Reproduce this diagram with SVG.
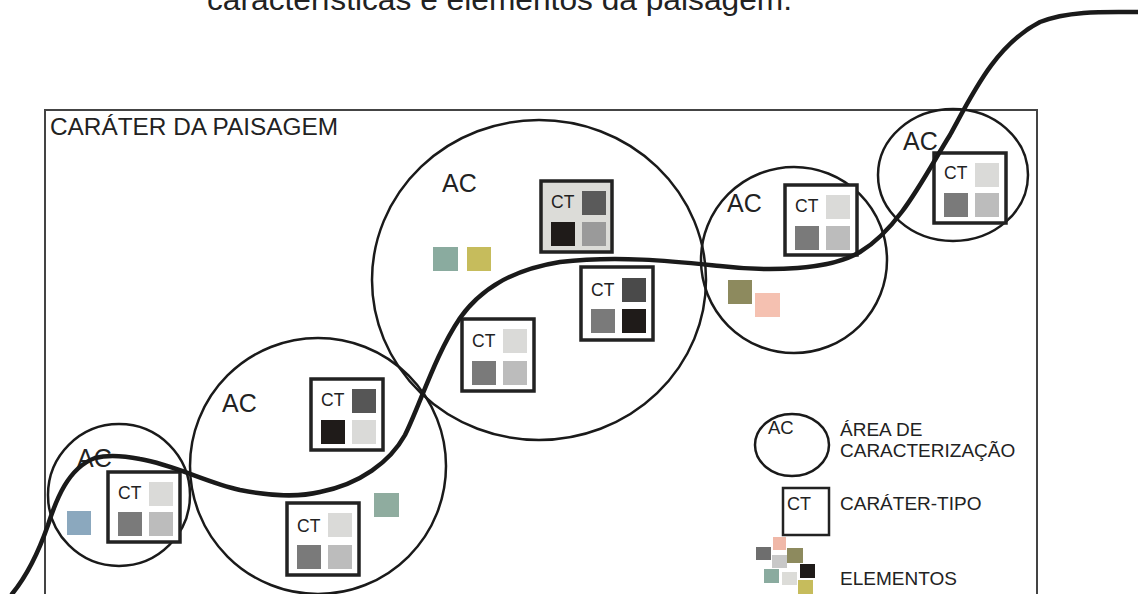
<svg xmlns="http://www.w3.org/2000/svg" width="1138" height="594" viewBox="0 0 1138 594">
<style>
text{font-family:"Liberation Sans",Arial,sans-serif;fill:#222}
.ac{fill:none;stroke:#1a1a1a;stroke-width:2.5}
.acl{font-size:25px}
.ctb{fill:#fff;stroke:#222;stroke-width:3.5}
.ctt{font-size:17.5px}
.lg{font-size:19px}
.l{fill:#dadad8}.m{fill:#7a7a7a}.g{fill:#bcbcbc}.d{fill:#565656}.k{fill:#1f1b19}
</style>
<rect width="1138" height="594" fill="#fff"/>
<text x="207" y="10" font-size="30" textLength="585" lengthAdjust="spacingAndGlyphs">características e elementos da paisagem.</text>
<g id="frame">
<rect x="45" y="110" width="992" height="520" fill="none" stroke="#444" stroke-width="2"/>
<text x="50" y="135" font-size="23" textLength="288" lengthAdjust="spacingAndGlyphs">CARÁTER DA PAISAGEM</text>
</g>
<g id="ac1">
<circle class="ac" cx="119" cy="495" r="71"/>
<text class="acl" x="77" y="467">AC</text>
<rect x="67" y="511" width="24" height="24" fill="#8ba8be"/>
<g transform="translate(108,472)"><rect class="ctb" width="72" height="70"/><text class="ctt" x="10" y="27">CT</text><rect class="l" x="41" y="10" width="24" height="24"/><rect class="m" x="10" y="40" width="24" height="24"/><rect class="g" x="41" y="40" width="24" height="24"/></g>
</g>
<g id="ac2">
<circle class="ac" cx="318" cy="466" r="128"/>
<text class="acl" x="222" y="412">AC</text>
<rect x="374" y="493" width="25" height="24" fill="#8fac9f"/>
<g transform="translate(311,379)"><rect class="ctb" width="72" height="71"/><text class="ctt" x="10" y="27">CT</text><rect class="d" x="41" y="10" width="24" height="24"/><rect class="k" x="10" y="41" width="24" height="24"/><rect class="l" x="41" y="41" width="24" height="24"/></g>
<g transform="translate(287,503)"><rect class="ctb" width="72" height="72"/><text class="ctt" x="10" y="29">CT</text><rect class="l" x="41" y="10" width="24" height="24"/><rect class="m" x="10" y="42" width="24" height="24"/><rect class="g" x="41" y="42" width="24" height="24"/></g>
</g>
<g id="ac3">
<ellipse class="ac" cx="539" cy="280" rx="167" ry="160"/>
<text class="acl" x="442" y="192">AC</text>
<rect x="433" y="247" width="25" height="24" fill="#8aab9f"/>
<rect x="467" y="247" width="24" height="24" fill="#c6bc5c"/>
<g transform="translate(541,181)"><rect class="ctb" width="71" height="71" style="fill:#dcdcd8"/><text class="ctt" x="10" y="27">CT</text><rect x="41" y="10" width="24" height="24" fill="#5a5a5a"/><rect class="k" x="10" y="41" width="24" height="24"/><rect x="41" y="41" width="24" height="24" fill="#9a9a9a"/></g>
<g transform="translate(581,267)"><rect class="ctb" width="72" height="73"/><text class="ctt" x="10" y="29">CT</text><rect x="41" y="11" width="24" height="24" fill="#4a4a4a"/><rect class="m" x="10" y="42" width="24" height="24"/><rect class="k" x="41" y="42" width="24" height="24"/></g>
<g transform="translate(462,319)"><rect class="ctb" width="72" height="72"/><text class="ctt" x="10" y="28">CT</text><rect class="l" x="41" y="10" width="24" height="24"/><rect class="m" x="10" y="42" width="24" height="24"/><rect class="g" x="41" y="42" width="24" height="24"/></g>
</g>
<g id="ac4">
<circle class="ac" cx="794" cy="260" r="93"/>
<text class="acl" x="727" y="212">AC</text>
<rect x="728" y="280" width="24" height="24" fill="#8d8a5e"/>
<rect x="755" y="293" width="25" height="24" fill="#f5c1b1"/>
<g transform="translate(785,185)"><rect class="ctb" width="72" height="70"/><text class="ctt" x="10" y="27">CT</text><rect class="l" x="41" y="10" width="24" height="24"/><rect class="m" x="10" y="41" width="24" height="24"/><rect class="g" x="41" y="41" width="24" height="24"/></g>
</g>
<g id="ac5">
<ellipse class="ac" cx="953" cy="175" rx="75" ry="66"/>
<text class="acl" x="903" y="150">AC</text>
<g transform="translate(934,153)"><rect class="ctb" width="72" height="70"/><text class="ctt" x="10" y="26">CT</text><rect class="l" x="41" y="10" width="24" height="24"/><rect class="m" x="10" y="40" width="24" height="24"/><rect class="g" x="41" y="40" width="24" height="24"/></g>
</g>
<g id="legend">
<ellipse class="ac" cx="792" cy="445" rx="37" ry="31"/>
<text x="768" y="434" font-size="18.5">AC</text>
<text class="lg" x="840" y="436">ÁREA DE</text>
<text class="lg" x="840" y="457">CARACTERIZAÇÃO</text>
<rect x="783" y="488" width="46" height="47" fill="#fff" stroke="#222" stroke-width="2.5"/>
<text x="787" y="510" font-size="18">CT</text>
<text class="lg" x="840" y="510">CARÁTER-TIPO</text>
<rect x="756" y="547" width="15" height="13" fill="#6e6e6e"/>
<rect x="773" y="537" width="13" height="13" fill="#f0b8a8"/>
<rect x="772" y="555" width="15" height="13" fill="#c8c8c8"/>
<rect x="787" y="548" width="16" height="15" fill="#8d8a5e"/>
<rect x="800" y="564" width="15" height="14" fill="#1f1b19"/>
<rect x="764" y="569" width="15" height="14" fill="#8aab9f"/>
<rect x="782" y="572" width="15" height="13" fill="#dcdcd8"/>
<rect x="798" y="580" width="15" height="14" fill="#c6bc5c"/>
<text class="lg" x="840" y="585">ELEMENTOS</text>
</g>
<g id="connectors">
<path d="M 12 594 C 30 572, 40 548, 48 525 C 56 500, 68 468, 95 458 C 110 454, 125 456, 140 459 C 175 465, 205 482, 240 490 C 270 496, 300 497, 320 492 C 360 484, 390 462, 405 435 C 420 405, 435 355, 460 318 C 480 290, 510 270, 560 262 C 620 255, 680 262, 720 266 C 770 272, 830 270, 860 252 C 900 228, 925 175, 950 135 C 972 95, 995 45, 1040 22 C 1070 10, 1110 12, 1138 12" fill="none" stroke="#1a1a1a" stroke-width="4.5" stroke-linecap="round"/>
</g>
</svg>
